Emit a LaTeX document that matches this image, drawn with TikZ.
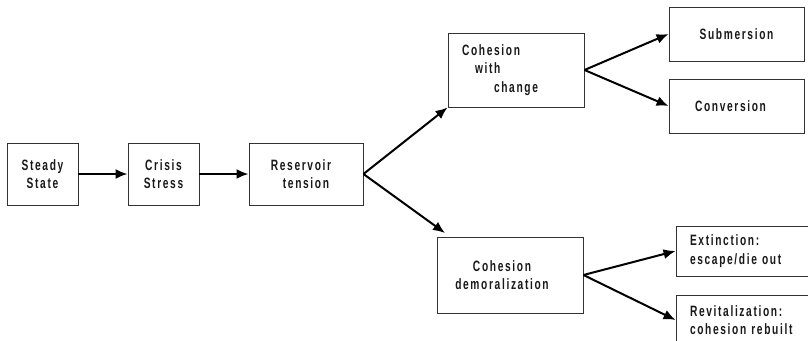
\documentclass[tikz,border=0pt]{standalone}
\usepackage{fontspec}
\newfontfamily\lab[LetterSpace=11,FakeStretch=0.68]{Liberation Sans}
\usetikzlibrary{arrows.meta}
\begin{document}
\begin{tikzpicture}[x=1pt,y=-1pt,
  box/.style={draw=black!80, line width=0.9pt, inner sep=0pt, align=center,
    font=\lab\bfseries\fontsize{15}{18.5}\selectfont, text=black!90},
  lbox/.style={box, align=left, inner xsep=14pt},
  arr/.style={line width=2pt, draw=black, -{Latex[length=12pt,width=10pt]}}]
\useasboundingbox (0,0) rectangle (808,340);
\fill[white] (0,0) rectangle (808,340);
\clip (0,0) rectangle (808,340);
\node[box, minimum width=71pt, minimum height=62pt] (ss) at (42.5,174) {Steady\\State};
\node[box, minimum width=71pt, minimum height=62pt] (cs) at (163.5,174) {Crisis\\Stress};
\node[box, minimum width=114pt, minimum height=62pt] (rt) at (306,174) {Reservoir\hspace*{10pt}\\tension};
\node[lbox, text width=108pt, minimum height=74pt] (cwc) at (516,70) {Cohesion\\\hspace*{13pt}with\\\hspace*{32pt}change};
\node[box, minimum width=135pt, minimum height=54pt] (sub) at (736.5,34) {Submersion};
\node[box, minimum width=135pt, minimum height=54pt] (con) at (736.5,106) {Conversion\hspace*{12pt}};
\node[box, minimum width=146pt, minimum height=76pt] (dem) at (510,275) {Cohesion\hspace*{16pt}\\demoralization\hspace*{16pt}};
\node[lbox, text width=108pt, minimum height=50pt] (ext) at (744,251) {Extinction:\\escape/die out};
\node[lbox, text width=108pt, minimum height=50pt] (rev) at (744,320) {Revitalization:\\cohesion rebuilt};
\coordinate (demtip) at (445,233);
\draw[arr] (ss) -- (cs);
\draw[arr] (cs) -- (rt);
\draw[arr] (rt.east) -- (cwc.south west);
\draw[arr] (rt.east) -- (demtip);
\draw[arr] (cwc.east) -- (sub.west);
\draw[arr] (cwc.east) -- (con.west);
\draw[arr] (dem.east) -- (ext.west);
\draw[arr] (dem.east) -- (rev.west);
\end{tikzpicture}
\end{document}
